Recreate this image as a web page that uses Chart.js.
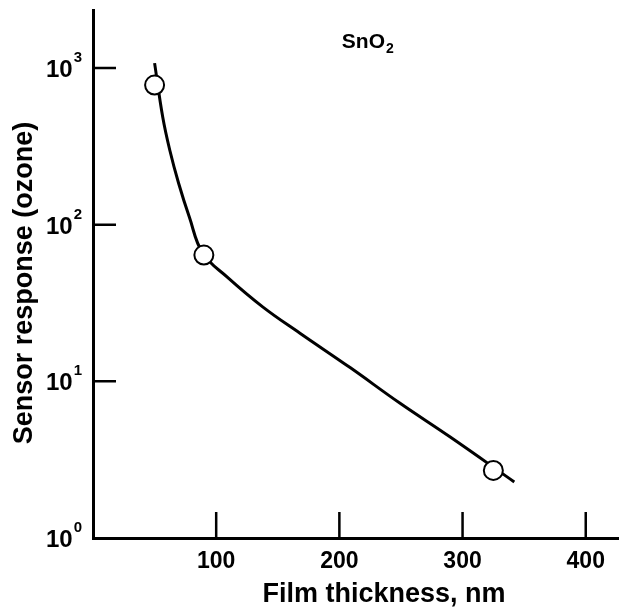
<!DOCTYPE html>
<html>
<head>
<meta charset="utf-8">
<script src="https://cdn.jsdelivr.net/npm/chart.js@4/dist/chart.umd.min.js"></script>
<style>
  body { margin: 0; background: #fff; }
  canvas { display: block; }
</style>
</head>
<body>
<canvas id="sensorChart" width="619" height="611"></canvas>
<script>
// measured points (circles)
const pointX = [50, 90, 325];
const pointY = [779, 64, 2.7];

// fitted curve
const curveX = [50, 56.6, 62.3, 69.5, 78.2, 89, 109, 138, 168, 209, 249, 290, 342];
const curveY = [1076, 487, 300, 184, 112, 66, 46.3, 29.8, 20.3, 12.2, 7.27, 4.41, 2.28];

const xTicks = [100, 200, 300, 400];
const yTicks = [1, 10, 100, 1000];
const yExp = ['0', '1', '2', '3'];

const xTitle = 'Film thickness, nm';
const yTitle = 'Sensor response (ozone)';

const FONT = '"Liberation Sans", Arial, sans-serif';

const toXY = (xs, ys) => xs.map((v, i) => ({ x: v, y: ys[i] }));

// tick marks drawn inside the plot, y labels as 10^n, titles and the SnO2 tag
const decorations = {
    id: 'decorations',
    afterDraw(chart) {
        const { ctx, chartArea, scales: { x, y } } = chart;
        ctx.save();
        ctx.strokeStyle = '#000';
        ctx.lineWidth = 2.5;
        ctx.beginPath();
        xTicks.forEach(v => {
            const px = x.getPixelForValue(v);
            ctx.moveTo(px, chartArea.bottom);
            ctx.lineTo(px, chartArea.bottom - 26);
        });
        yTicks.slice(1).forEach(v => {
            const py = y.getPixelForValue(v);
            ctx.moveTo(chartArea.left, py);
            ctx.lineTo(chartArea.left + 23, py);
        });
        ctx.stroke();

        ctx.fillStyle = '#000';
        ctx.textBaseline = 'alphabetic';
        yTicks.forEach((v, i) => {
            const py = y.getPixelForValue(v);
            const right = chartArea.left - 11;
            ctx.font = 'bold 15px ' + FONT;
            ctx.textAlign = 'right';
            const ew = ctx.measureText(yExp[i]).width;
            ctx.fillText(yExp[i], right, py - 6);
            ctx.font = 'bold 24px ' + FONT;
            ctx.fillText('10', right - ew - 1, py + 9);
        });

        // SnO2 label
        const lx = x.getPixelForValue(202);
        const ly = y.getPixelForValue(1514);
        ctx.textAlign = 'left';
        ctx.font = 'bold 21px ' + FONT;
        ctx.fillText('SnO', lx, ly + 8);
        const w = ctx.measureText('SnO').width;
        ctx.font = 'bold 14px ' + FONT;
        ctx.fillText('2', lx + w + 1, ly + 13);

        // axis titles
        ctx.font = 'bold 27px ' + FONT;
        ctx.textAlign = 'center';
        ctx.fillText(xTitle, 384, 602);
        ctx.translate(32, 283);
        ctx.rotate(-Math.PI / 2);
        ctx.fillText(yTitle, 0, 0);
        ctx.restore();
    }
};

const ctx = document.getElementById('sensorChart').getContext('2d');

new Chart(ctx, {
    type: 'scatter',
    data: {
        datasets: [{
            label: 'points',
            data: toXY(pointX, pointY),
            pointRadius: 9.5,
            pointHoverRadius: 9.5,
            pointBackgroundColor: '#fff',
            pointBorderColor: '#000',
            pointBorderWidth: 2,
            showLine: false,
            order: 0
        }, {
            label: 'curve',
            data: toXY(curveX, curveY),
            showLine: true,
            borderColor: '#000',
            borderWidth: 3,
            pointRadius: 0,
            tension: 0.4,
            fill: false,
            order: 1
        }]
    },
    options: {
        responsive: false,
        animation: false,
        layout: {
            autoPadding: false,
            padding: { top: 10, left: 0, right: 0, bottom: 0 }
        },
        plugins: {
            legend: { display: false },
            tooltip: { enabled: false }
        },
        scales: {
            x: {
                type: 'linear',
                min: 0,
                max: 427,
                afterBuildTicks: s => { s.ticks = xTicks.map(v => ({ value: v })); },
                afterFit: s => {
                    s.height = 73;
                    s.paddingLeft = 0;
                    s.paddingRight = 0;
                },
                grid: { display: false, drawTicks: false },
                border: { display: true, color: '#000', width: 3 },
                ticks: {
                    color: '#000',
                    padding: 10,
                    font: { family: FONT, size: 23, weight: 'bold' }
                }
            },
            y: {
                type: 'logarithmic',
                min: 1,
                max: 2350,
                afterBuildTicks: s => { s.ticks = yTicks.map(v => ({ value: v })); },
                afterFit: s => {
                    s.width = 93;
                    s.paddingTop = 0;
                    s.paddingBottom = 0;
                },
                grid: { display: false, drawTicks: false },
                border: { display: true, color: '#000', width: 3 },
                ticks: { display: false }
            }
        }
    },
    plugins: [decorations]
});
</script>
</body>
</html>
